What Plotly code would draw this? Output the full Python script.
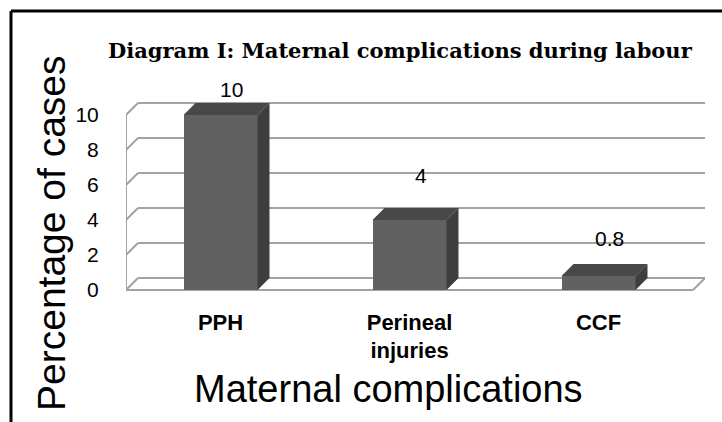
import plotly.graph_objects as go

# ---- data ----
categories = ["PPH", "Perineal<br>injuries", "CCF"]
values = [10, 4, 0.8]
value_labels = ["10", "4", "0.8"]
y_ticks = [0, 2, 4, 6, 8, 10]

# ---- geometry (pixels) ----
W, H = 722, 422
PX_X = 189.0        # pixels per category unit
PX_Y = 17.5         # pixels per value unit
DEPTH = 12          # 3D depth offset in pixels
dx = DEPTH / PX_X
dy = DEPTH / PX_Y
bar_w = 74 / PX_X

x_range = [-0.5, 2.5 + dx]
y_range = [-0.3, 12]
PL = 126
PR = PL + (x_range[1] - x_range[0]) * PX_X
Y0PIX = 290
PT = Y0PIX - y_range[1] * PX_Y
PB = Y0PIX - y_range[0] * PX_Y

FRONT = "#616161"
TOP = "#484848"
SIDE = "#3e3e3e"
GRID = "#a3a3a3"

xs = list(range(len(categories)))

fig = go.Figure()

# front faces
fig.add_trace(go.Bar(x=xs, y=values, width=bar_w,
                     marker=dict(color=FRONT, line=dict(width=0)),
                     hoverinfo="skip", showlegend=False))

# top and side faces
tx, ty, sx, sy = [], [], [], []
for x, v in zip(xs, values):
    l, r = x - bar_w / 2, x + bar_w / 2
    tx += [l, r, r + dx, l + dx, l, None]
    ty += [v, v, v + dy, v + dy, v, None]
    sx += [r, r + dx, r + dx, r, r, None]
    sy += [0, dy, v + dy, v, 0, None]
fig.add_trace(go.Scatter(x=tx, y=ty, fill="toself", fillcolor=TOP, mode="lines",
                         line=dict(width=0, color=TOP), hoverinfo="skip", showlegend=False))
fig.add_trace(go.Scatter(x=sx, y=sy, fill="toself", fillcolor=SIDE, mode="lines",
                         line=dict(width=0, color=SIDE), hoverinfo="skip", showlegend=False))

# walls / gridlines
shapes = []
x0, x1 = -0.5, 2.5
for v in y_ticks:
    shapes.append(dict(type="line", xref="x", yref="y", x0=x0 + dx, y0=v + dy, x1=x1 + dx, y1=v + dy,
                       line=dict(color=GRID, width=2), layer="below"))
    shapes.append(dict(type="line", xref="x", yref="y", x0=x0, y0=v, x1=x0 + dx, y1=v + dy,
                       line=dict(color=GRID, width=2), layer="below"))
shapes.append(dict(type="line", xref="x", yref="y", x0=x0, y0=0, x1=x0, y1=y_ticks[-1],
                   line=dict(color=GRID, width=2), layer="below"))
shapes.append(dict(type="line", xref="x", yref="y", x0=x0, y0=0, x1=x1, y1=0,
                   line=dict(color=GRID, width=2), layer="below"))
shapes.append(dict(type="line", xref="x", yref="y", x0=x1, y0=0, x1=x1 + dx, y1=dy,
                   line=dict(color=GRID, width=2), layer="below"))

# outer frame
fx, fy = 11 / W, 1 - 11 / H
shapes.append(dict(type="line", xref="paper", yref="paper", x0=fx, y0=fy, x1=1, y1=fy,
                   line=dict(color="black", width=3)))
shapes.append(dict(type="line", xref="paper", yref="paper", x0=fx, y0=fy, x1=fx, y1=0,
                   line=dict(color="black", width=3)))

annotations = []
label_shift = [25, 45, 38]
for x, v, t, s in zip(xs, values, value_labels, label_shift):
    annotations.append(dict(x=x, y=v, xref="x", yref="y", text=t, showarrow=False,
                            xshift=11, yshift=s, yanchor="middle",
                            font=dict(family="Liberation Sans", size=21, color="black")))

annotations.append(dict(x=400 / W, y=1 - 50 / H, xref="paper", yref="paper",
                        text="Diagram I: Maternal complications during labour", showarrow=False,
                        font=dict(family="DejaVu Serif", size=21, color="black", weight="bold"),
                        xanchor="center", yanchor="middle"))
annotations.append(dict(x=51 / W, y=1 - 233 / H, xref="paper", yref="paper",
                        text="Percentage of cases", showarrow=False, textangle=-90,
                        font=dict(family="Liberation Sans", size=39, color="black"),
                        xanchor="center", yanchor="middle"))
annotations.append(dict(x=388 / W, y=1 - 389 / H, xref="paper", yref="paper",
                        text="Maternal complications", showarrow=False,
                        font=dict(family="Liberation Sans", size=38, color="black"),
                        xanchor="center", yanchor="middle"))

fig.update_layout(
    width=W, height=H,
    margin=dict(l=0, r=0, t=0, b=0),
    paper_bgcolor="white", plot_bgcolor="white",
    shapes=shapes, annotations=annotations,
    showlegend=False, bargap=0,
    xaxis=dict(domain=[PL / W, PR / W], range=x_range, tickvals=xs, ticktext=categories,
               showgrid=False, zeroline=False, showline=False,
               ticks="outside", ticklen=7, tickcolor="rgba(0,0,0,0)",
               tickfont=dict(family="Liberation Sans", size=22, color="black", weight="bold"),
               fixedrange=True, automargin=False),
    yaxis=dict(domain=[1 - PB / H, 1 - PT / H], range=y_range, tickvals=y_ticks,
               showgrid=False, zeroline=False, showline=False,
               ticks="outside", ticklen=22, tickcolor="rgba(0,0,0,0)",
               tickfont=dict(family="Liberation Sans", size=21, color="black"),
               fixedrange=True, automargin=False),
)

fig.write_html("out.html", config={"displayModeBar": False},
               post_script="document.body.style.margin='0';")
